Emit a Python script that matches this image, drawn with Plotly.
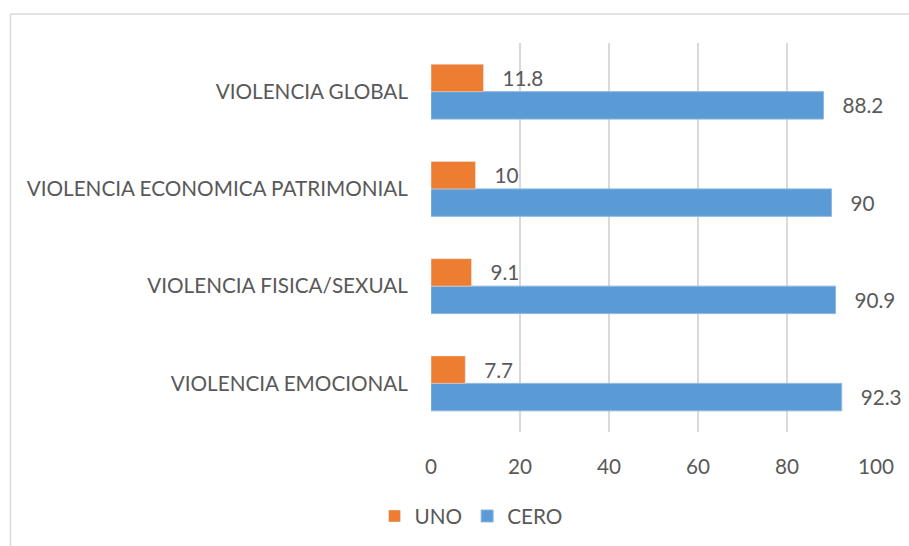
import plotly.graph_objects as go

categories = ["VIOLENCIA EMOCIONAL", "VIOLENCIA FISICA/SEXUAL",
              "VIOLENCIA ECONOMICA PATRIMONIAL", "VIOLENCIA GLOBAL"]
uno = [7.7, 9.1, 10, 11.8]
cero = [92.3, 90.9, 90, 88.2]
x_ticks = [0, 20, 40, 60, 80, 100]

FONT = "Lato"
TXT = "#595959"
FS = 20.7

fig = go.Figure()
fig.add_trace(go.Bar(
    y=categories, x=cero, name="CERO", orientation="h",
    marker=dict(color="#5B9BD5", line=dict(color="#8DB9E3", width=1)),
    text=cero, texttemplate="   %{x}", textposition="outside",
    textfont=dict(family=FONT, size=FS, color=TXT),
    constraintext="none", cliponaxis=False, legendrank=2,
))
fig.add_trace(go.Bar(
    y=categories, x=uno, name="UNO", orientation="h",
    marker=dict(color="#ED7D31"),
    text=uno, texttemplate="   %{x}", textposition="outside",
    textfont=dict(family=FONT, size=FS, color=TXT),
    constraintext="none", cliponaxis=False, legendrank=1,
))

fig.update_layout(
    width=909, height=546,
    margin=dict(l=431, r=33, t=43, b=114, autoexpand=False),
    paper_bgcolor="white", plot_bgcolor="white",
    barmode="group", bargap=0.435, bargroupgap=0,
    font=dict(family=FONT, size=FS, color=TXT),
    showlegend=True,
    legend=dict(orientation="h", x=0.09, xanchor="center", y=-0.216,
                yanchor="middle", font=dict(family=FONT, size=FS, color=TXT),
                itemwidth=30, traceorder="normal"),
    xaxis=dict(range=[0, 100], tickvals=x_ticks, showgrid=True,
               gridcolor="#D9D9D9", gridwidth=1.5, zeroline=False,
               showline=False, ticks="", ticklabelstandoff=20,
               tickfont=dict(family=FONT, size=FS, color=TXT)),
    yaxis=dict(categoryorder="array", categoryarray=categories,
               showgrid=False, showline=False, zeroline=False,
               ticks="", ticklabelstandoff=22,
               tickfont=dict(family=FONT, size=FS, color=TXT)),
    shapes=[
        dict(type="line", xref="paper", yref="paper", x0=-0.945, x1=1.2,
             y0=1.0746, y1=1.0746, line=dict(color="#D9D9D9", width=1.5)),
        dict(type="line", xref="paper", yref="paper", x0=-0.945, x1=-0.945,
             y0=1.0746, y1=-0.4, line=dict(color="#D9D9D9", width=1.5)),
    ],
)

fig.write_html("out.html", config={"displayModeBar": False},
               post_script="document.body.style.margin='0';document.body.style.overflow='hidden';")
